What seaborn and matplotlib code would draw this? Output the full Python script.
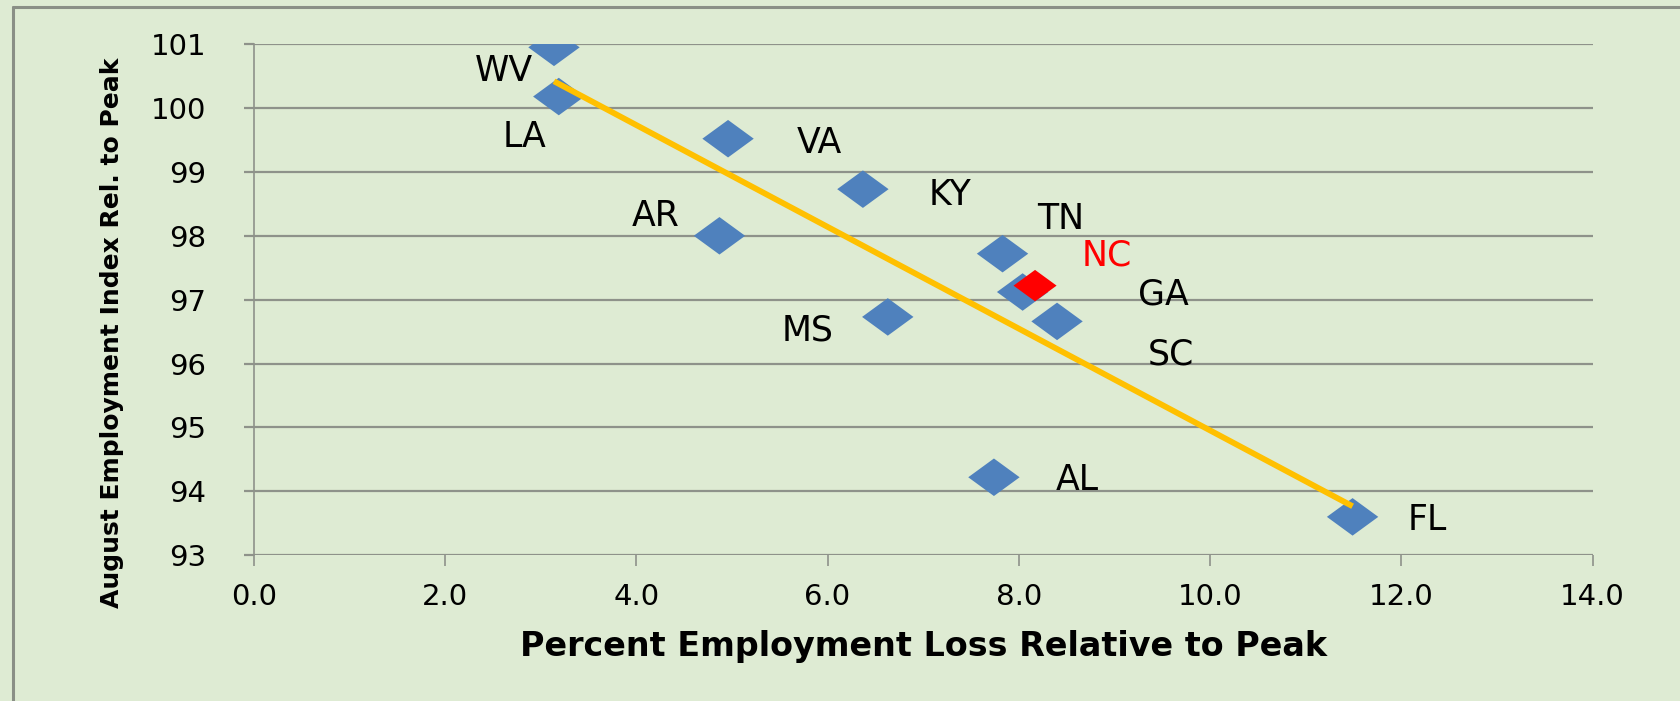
import matplotlib
matplotlib.use("Agg")
import numpy as np
import pandas as pd
import matplotlib.pyplot as plt
import seaborn as sns
from matplotlib.lines import Line2D

BG     = "#DEEBD3"
GRID   = "#8E928A"
BLUE   = "#4F81BD"
RED    = "#FF0000"
GOLD   = "#FFC000"

# data
states   = ["WV", "LA", "VA", "KY", "AR", "TN", "GA", "NC", "MS", "SC", "AL", "FL"]
loss_pct = [3.14, 3.19, 4.96, 6.37, 4.87, 7.83, 8.04, 8.17, 6.63, 8.40, 7.74, 11.49]
index_ix = [100.95, 100.18, 99.52, 98.73, 98.00, 97.72, 97.12, 97.22, 96.73, 96.66, 94.22, 93.60]
highlight = "NC"

x_ticks = [0, 2, 4, 6, 8, 10, 12, 14]
y_ticks = [93, 94, 95, 96, 97, 98, 99, 100, 101]

# label offsets in points (layout only)
offsets = {
    "WV": (-36, -17), "LA": (-25, -29), "VA": (66, -3), "KY": (63, -4),
    "AR": (-46, 14), "TN": (42, 25), "NC": (52, 22), "GA": (101, -2),
    "MS": (-58, -10), "SC": (82, -24), "AL": (60, -2), "FL": (54, -2),
}

df = pd.DataFrame({"state": states, "loss": loss_pct, "idx": index_ix})
df["grp"] = np.where(df["state"] == highlight, "hl", "base")

sns.set_theme(style="white")
plt.rcParams["font.family"] = ["DejaVu Sans"]
plt.rcParams["text.color"] = "black"

fig = plt.figure(figsize=(16.8, 7.01), dpi=100)
fig.patch.set_facecolor(BG)
ax = fig.add_axes([0.151, 0.208, 0.797, 0.729])
ax.set_facecolor(BG)

# wide diamond like the Excel marker
diamond = [(-1.37, 0), (0, 1), (1.37, 0), (0, -1), (-1.37, 0)]

base = df[df["grp"] == "base"]
hl = df[df["grp"] == "hl"]
sns.scatterplot(data=base, x="loss", y="idx", marker=diamond, s=37**2,
                color=BLUE, edgecolor="none", ax=ax, zorder=3, legend=False)

# linear trend line over the data range
b1, b0 = np.polyfit(df["loss"], df["idx"], 1)
xs = np.array([df["loss"].min(), df["loss"].max()])
ax.plot(xs, b0 + b1 * xs, color=GOLD, linewidth=4.2, zorder=4,
        solid_capstyle="butt")

sns.scatterplot(data=hl, x="loss", y="idx", marker=diamond, s=31**2,
                color=RED, edgecolor="none", ax=ax, zorder=5, legend=False)

for _, r in df.iterrows():
    ax.annotate(r["state"], (r["loss"], r["idx"]), xytext=offsets[r["state"]],
                textcoords="offset points", ha="center", va="center",
                fontsize=25, color=RED if r["state"] == highlight else "black",
                zorder=6)

ax.set_xlim(0, 14)
ax.set_ylim(93, 101)
ax.set_xticks(x_ticks)
ax.set_xticklabels([f"{v:.1f}" for v in x_ticks])
ax.set_yticks(y_ticks)
ax.set_yticklabels([str(v) for v in y_ticks])
ax.grid(axis="y", color=GRID, linewidth=1.6)
ax.grid(axis="x", visible=False)
ax.set_axisbelow(True)
for s in ["top", "right", "bottom"]:
    ax.spines[s].set_visible(False)
ax.spines["left"].set_color(GRID)
ax.spines["left"].set_linewidth(1.2)
ax.tick_params(axis="x", which="major", length=8, width=1.2, color=GRID,
               direction="out", labelsize=21, pad=12, bottom=True,
               labelcolor="black")
ax.tick_params(axis="y", which="major", length=7, width=1.6, color=GRID,
               direction="out", labelsize=21, pad=27, left=True,
               labelcolor="black")

ax.set_xlabel("Percent Employment Loss Relative to Peak", fontsize=24,
              fontweight="bold", labelpad=14, color="black")
ax.set_ylabel("August Employment Index Rel. to Peak", fontsize=18,
              fontweight="bold", color="black")
ax.yaxis.set_label_coords(-0.097, 0.436)

# outer chart frame (top and left edges visible)
fig.add_artist(Line2D([0.0077, 0.0077], [0.0, 0.99], transform=fig.transFigure,
                      color="#8A8F86", linewidth=2.2))
fig.add_artist(Line2D([0.0077, 1.0], [0.99, 0.99], transform=fig.transFigure,
                      color="#8A8F86", linewidth=2.2))

fig.savefig("out.png", dpi=100, facecolor=BG)
